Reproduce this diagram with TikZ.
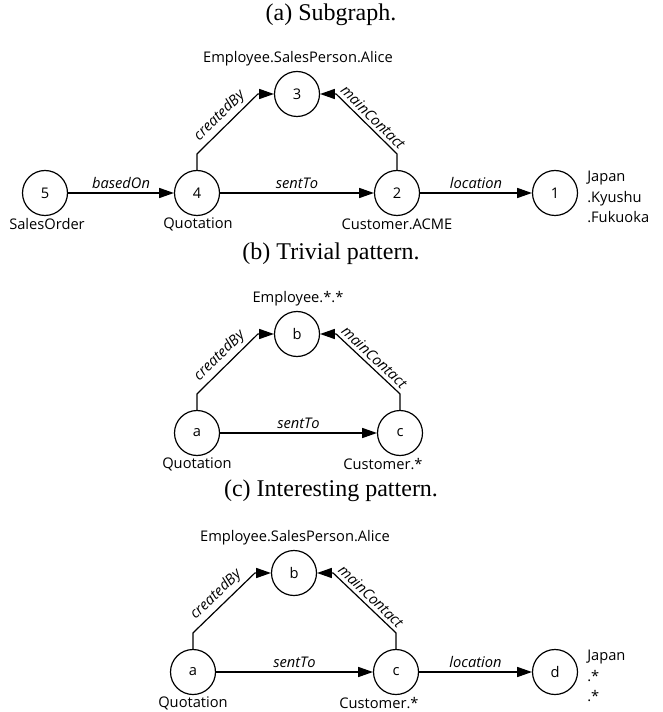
\documentclass[tikz,border=0pt]{standalone}
\usepackage{fontspec}
\setmainfont{Liberation Serif}
\setsansfont{Open Sans}
\usepackage{tikz}
\usetikzlibrary{arrows.meta, positioning}

\begin{document}
\begin{tikzpicture}[
    x=0.75pt, y=-0.75pt,
    vertex/.style={circle, draw, line width=0.9pt, minimum size=33.75pt, inner sep=0pt, font=\sffamily\fontsize{11}{13}\selectfont},
    lbl/.style={font=\sffamily\fontsize{11}{13}\selectfont, inner sep=0pt},
    elbl/.style={font=\sffamily\itshape\fontsize{11}{13}\selectfont, inner sep=1pt},
    caption/.style={font=\fontsize{18}{21}\selectfont, inner sep=0pt},
    arrow/.style={-{Triangle[length=11pt, width=7.5pt]}, line width=0.9pt}
]
    \useasboundingbox (0,0) rectangle (662,712);

    % Panel (a): Subgraph
    \node[caption] (cap-a) at (331, 15) {(a) Subgraph.};
    \node[vertex] (n5) at (45, 193) {5};
    \node[vertex] (n4) at (197, 193) {4};
    \node[vertex] (n2) at (397, 193) {2};
    \node[vertex] (n1) at (555, 193) {1};
    \node[vertex] (n3) at (297, 94) {3};
    \node[lbl] (n5-lbl) at (47, 224) {SalesOrder};
    \node[lbl] (n4-lbl) at (198, 224) {Quotation};
    \node[lbl] (n2-lbl) at (397, 224) {Customer.ACME};
    \node[lbl] (n3-lbl) at (298, 59) {Employee.SalesPerson.Alice};
    \node[lbl, anchor=west, align=left, font=\sffamily\fontsize{11}{15.4}\selectfont] (n1-lbl) at (587, 197) {Japan\\.Kyushu\\.Fukuoka};

    \draw[arrow] (n5) -- node[elbl, above=2pt] (e54) {basedOn} (n4);
    \draw[arrow] (n4) -- node[elbl, above=2pt] (e42) {sentTo} (n2);
    \draw[arrow] (n2) -- node[elbl, above=2pt] (e21) {location} (n1);
    \draw[arrow] (n4.north) -- ++(0,-16) -- node[elbl, sloped, above=1.5pt] (e43) {createdBy} ([xshift=-12pt]n3.west) -- (n3.west);
    \draw[arrow] (n2.north) -- ++(0,-16) -- node[elbl, sloped, above=1.5pt] (e23) {mainContact} ([xshift=12pt]n3.east) -- (n3.east);

    % Panel (b): Trivial pattern
    \node[caption] (cap-b) at (331, 254) {(b) Trivial pattern.};
    \node[vertex] (pa) at (197, 433) {a};
    \node[vertex] (pc) at (400, 433) {c};
    \node[vertex] (pb) at (297, 334) {b};
    \node[lbl] (pa-lbl) at (197, 464) {Quotation};
    \node[lbl] (pc-lbl) at (383, 464) {Customer.*};
    \node[lbl] (pb-lbl) at (298, 299) {Employee.*.*};

    \draw[arrow] (pa) -- node[elbl, above=2pt] (fac) {sentTo} (pc);
    \draw[arrow] (pa.north) -- ++(0,-16) -- node[elbl, sloped, above=1.5pt] (fab) {createdBy} ([xshift=-12pt]pb.west) -- (pb.west);
    \draw[arrow] (pc.north) -- ++(0,-16) -- node[elbl, sloped, above=1.5pt] (fcb) {mainContact} ([xshift=12pt]pb.east) -- (pb.east);

    % Panel (c): Interesting pattern
    \node[caption] (cap-c) at (331, 491) {(c) Interesting pattern.};
    \node[vertex] (qa) at (193, 672) {a};
    \node[vertex] (qc) at (396, 672) {c};
    \node[vertex] (qd) at (555, 672) {d};
    \node[vertex] (qb) at (294, 573) {b};
    \node[lbl] (qa-lbl) at (193, 703) {Quotation};
    \node[lbl] (qc-lbl) at (379, 703) {Customer.*};
    \node[lbl] (qb-lbl) at (295, 538) {Employee.SalesPerson.Alice};
    \node[lbl, anchor=west, align=left, font=\sffamily\fontsize{11}{15.4}\selectfont] (qd-lbl) at (587, 676) {Japan\\.*\\.*};

    \draw[arrow] (qa) -- node[elbl, above=2pt] (gac) {sentTo} (qc);
    \draw[arrow] (qc) -- node[elbl, above=2pt] (gcd) {location} (qd);
    \draw[arrow] (qa.north) -- ++(0,-16) -- node[elbl, sloped, above=1.5pt] (gab) {createdBy} ([xshift=-12pt]qb.west) -- (qb.west);
    \draw[arrow] (qc.north) -- ++(0,-16) -- node[elbl, sloped, above=1.5pt] (gcb) {mainContact} ([xshift=12pt]qb.east) -- (qb.east);
\end{tikzpicture}
\end{document}
